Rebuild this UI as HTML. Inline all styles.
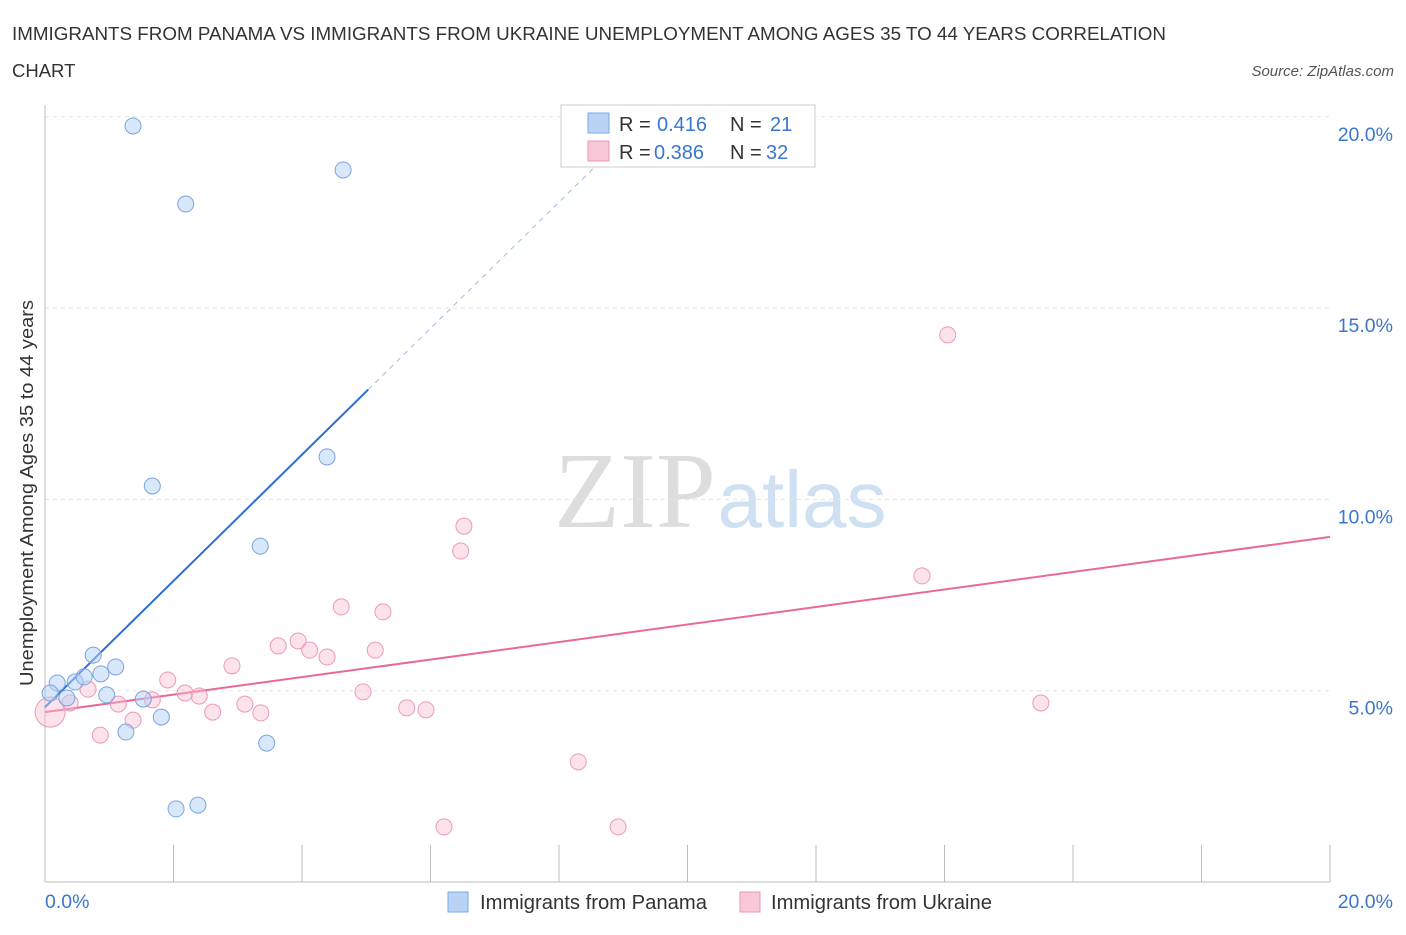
<!DOCTYPE html>
<html><head><meta charset="utf-8"><style>
body{margin:0;background:#fff;font-family:"Liberation Sans",sans-serif;}
</style></head><body>
<svg id="chart" width="1406" height="930" xmlns="http://www.w3.org/2000/svg" font-family="Liberation Sans, sans-serif">
<text x="12" y="40" font-size="18.5" fill="#333" textLength="1154" lengthAdjust="spacingAndGlyphs">IMMIGRANTS FROM PANAMA VS IMMIGRANTS FROM UKRAINE UNEMPLOYMENT AMONG AGES 35 TO 44 YEARS CORRELATION</text>
<text x="12" y="77" font-size="18.5" fill="#333">CHART</text>
<text x="1394" y="76" font-size="15" fill="#555" font-style="italic" text-anchor="end">Source: ZipAtlas.com</text>
<g>
<text x="635" y="527" font-size="108" fill="#ddd" font-family="Liberation Serif, serif" text-anchor="middle">ZIP</text>
<text x="802" y="527" font-size="80" fill="#cfe0f3" text-anchor="middle">atlas</text>
</g>
<g id="grid"></g>
<g id="axes"></g>
<g id="lines"></g>
<g id="points"></g>
<text transform="translate(33,493) rotate(-90)" font-size="18.5" fill="#333" text-anchor="middle" textLength="386" lengthAdjust="spacingAndGlyphs">Unemployment Among Ages 35 to 44 years</text>
<g>
<rect x="561" y="105" width="254" height="62" fill="#fff" stroke="#ccc"/>
<rect x="588" y="113" width="21" height="20" fill="#b9d3f5" stroke="#7aa8e6"/>
<rect x="588" y="141" width="21" height="20" fill="#f8c8d8" stroke="#eb94b3"/>
<g font-size="20" fill="#333">
<text x="619" y="131">R =</text><text x="657" y="131" fill="#3a77cc">0.416</text><text x="730" y="131">N =</text><text x="770" y="131" fill="#3a77cc">21</text>
<text x="619" y="159">R =</text><text x="654" y="159" fill="#3a77cc">0.386</text><text x="730" y="159">N =</text><text x="766" y="159" fill="#3a77cc">32</text>
</g>
</g>
<g>
<rect x="448" y="892" width="20" height="20" fill="#b9d3f5" stroke="#7aa8e6"/>
<text x="480" y="909" font-size="20" fill="#333" textLength="227" lengthAdjust="spacingAndGlyphs">Immigrants from Panama</text>
<rect x="740" y="892" width="20" height="20" fill="#f8c8d8" stroke="#eb94b3"/>
<text x="771" y="909" font-size="20" fill="#333" textLength="221" lengthAdjust="spacingAndGlyphs">Immigrants from Ukraine</text>
</g>
</svg>
<script>
const yTicks=[5,10,15,20];
const yTickLabels=["5.0%","10.0%","15.0%","20.0%"];
const xTicks=[0,2,4,6,8,10,12,14,16,18,20];
const panamaX=[1.37,2.19,4.64,4.39,1.67,3.35,0.75,1.10,0.87,0.19,0.47,0.61,0.08,0.34,0.96,1.53,1.81,1.26,3.45,2.04,2.38];
const panamaY=[19.76,17.72,18.61,11.11,10.35,8.78,5.93,5.62,5.44,5.20,5.23,5.36,4.94,4.81,4.89,4.78,4.31,3.92,3.63,1.91,2.01];
const ukraineX=[14.05,6.52,6.47,13.65,4.61,5.26,3.94,3.63,4.12,5.14,4.39,2.91,1.91,0.67,2.18,2.40,4.95,1.14,1.67,3.11,0.39,2.61,3.36,5.63,5.93,15.50,1.37,0.86,8.30,6.21,8.92,0.08];
const ukraineY=[14.30,9.30,8.65,8.00,7.19,7.06,6.30,6.17,6.06,6.06,5.88,5.65,5.28,5.04,4.94,4.86,4.97,4.65,4.76,4.65,4.68,4.44,4.42,4.55,4.50,4.68,4.23,3.84,3.14,1.44,1.44,4.44];
const panamaTrend=[4.57,1.65];
const ukraineTrend=[4.44,0.229];
const NS="http://www.w3.org/2000/svg";
const xs=v=>45+v/20*1285, ys=v=>882-v/5*191.3;
function mk(t,a,p){const e=document.createElementNS(NS,t);for(const k in a)e.setAttribute(k,a[k]);p.appendChild(e);return e;}
const grid=document.getElementById('grid'),axes=document.getElementById('axes'),lines=document.getElementById('lines'),pts=document.getElementById('points');
yTicks.forEach((v,i)=>{
const l=mk('line',{x1:45,x2:1330,y1:ys(v),y2:ys(v),stroke:'#e3e3e3','stroke-dasharray':'4,4'},grid);


const t=mk('text',{x:1393,y:ys(v)+24,'font-size':19.5,fill:'#3a77cc','text-anchor':'end'},axes);
t.textContent=yTickLabels[i];


});
const xa=mk('line',{x1:45,x2:1330,y1:882,y2:882,stroke:'#bbb'},axes);


const ya=mk('line',{x1:45,x2:45,y1:105,y2:882,stroke:'#bbb'},axes);


xTicks.forEach(v=>{const t=mk('line',{x1:xs(v),x2:xs(v),y1:845,y2:882,stroke:'#bbb'},axes);

});
[[0,"0.0%",45,'start'],[20,"20.0%",1393,'end']].forEach(a=>{const t=mk('text',{x:a[2],y:908,'font-size':19.5,fill:'#3a77cc','text-anchor':a[3]},axes);t.textContent=a[1];

});
const pl=mk('line',{x1:xs(0),y1:ys(panamaTrend[0]),x2:xs(5.03),y2:ys(panamaTrend[0]+panamaTrend[1]*5.03),stroke:'#2f6fd6','stroke-width':2},lines);


const pd=mk('line',{x1:xs(5.03),y1:ys(panamaTrend[0]+panamaTrend[1]*5.03),x2:xs(8.6),y2:ys(panamaTrend[0]+panamaTrend[1]*8.6),stroke:'#9bbbe6','stroke-width':1,'stroke-dasharray':'5,5'},lines);


const ul=mk('line',{x1:xs(0),y1:ys(ukraineTrend[0]),x2:xs(20),y2:ys(ukraineTrend[0]+ukraineTrend[1]*20),stroke:'#e8699a','stroke-width':2},lines);


ukraineX.forEach((x,i)=>{const c=mk('circle',{cx:xs(x),cy:ys(ukraineY[i]),r:i==31?15:8,fill:'rgba(248,190,210,0.45)',stroke:'#eb9ab8','stroke-width':1},pts);

});
panamaX.forEach((x,i)=>{const c=mk('circle',{cx:xs(x),cy:ys(panamaY[i]),r:8,fill:'rgba(180,208,245,0.5)',stroke:'#7aa5e0','stroke-width':1},pts);

});
</script>
</body></html>
